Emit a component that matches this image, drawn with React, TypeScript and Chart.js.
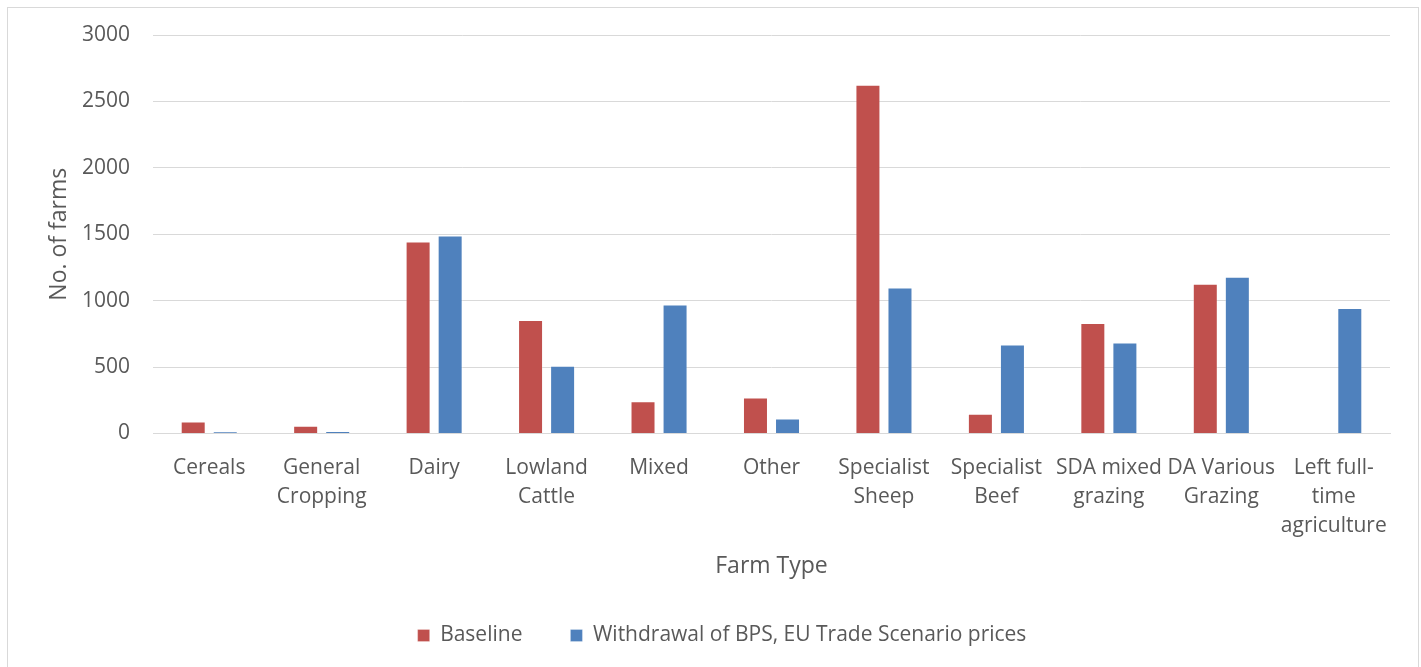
import React, { useEffect, useRef } from "react";
import { Chart, registerables } from "chart.js";

Chart.register(...registerables);

const categories: string[][] = [
  ["Cereals"],
  ["General", "Cropping"],
  ["Dairy"],
  ["Lowland", "Cattle"],
  ["Mixed"],
  ["Other"],
  ["Specialist", "Sheep"],
  ["Specialist", "Beef"],
  ["SDA mixed", "grazing"],
  ["DA Various", "Grazing"],
  ["Left full-", "time", "agriculture"],
];

const baseline: (number | null)[] = [90, 58, 1445, 855, 243, 271, 2625, 148, 832, 1128, null];
const withdrawal: number[] = [15, 17, 1490, 509, 970, 113, 1098, 670, 685, 1180, 945];

const yTicks: number[] = [0, 500, 1000, 1500, 2000, 2500, 3000];

const seriesNames = ["Baseline", "Withdrawal of BPS, EU Trade Scenario prices"];

const FONT = "'Open Sans', 'Noto Sans', sans-serif";
const TEXT = "#595959";

export default function App() {
  const ref = useRef<HTMLCanvasElement | null>(null);

  useEffect(() => {
    if (!ref.current) return;
    const chart = new Chart(ref.current, {
      type: "bar",
      data: {
        labels: categories,
        datasets: [
          {
            label: seriesNames[0],
            data: baseline,
            backgroundColor: "#C0504D",
            borderColor: "rgba(255,255,255,0.25)",
            borderWidth: 1,
            categoryPercentage: 0.57,
            barPercentage: 0.78,
          },
          {
            label: seriesNames[1],
            data: withdrawal,
            backgroundColor: "#4F81BD",
            borderColor: "rgba(255,255,255,0.25)",
            borderWidth: 1,
            categoryPercentage: 0.57,
            barPercentage: 0.78,
          },
        ],
      },
      options: {
        animation: false,
        responsive: false,
        maintainAspectRatio: false,
        layout: { padding: { top: 27, left: 18, right: 0, bottom: 11 } },
        plugins: {
          tooltip: { enabled: false },
          legend: {
            position: "bottom",
            labels: {
              boxWidth: 12,
              boxHeight: 12,
              padding: 48,
              color: TEXT,
              font: { family: FONT, size: 21 },
            },
          },
        },
        scales: {
          x: {
            grid: { display: false, drawTicks: false },
            border: { display: true, color: "#d9d9d9", width: 1 },
            ticks: {
              color: TEXT,
              padding: 20,
              maxRotation: 0,
              autoSkip: false,
              font: { family: FONT, size: 21, lineHeight: 1.38 },
            },
            title: {
              display: true,
              text: "Farm Type",
              color: TEXT,
              font: { family: FONT, size: 23, lineHeight: 1.2 },
              padding: { top: -8, bottom: -3 },
            },
          },
          y: {
            min: 0,
            max: 3000,
            afterBuildTicks: (scale: any) => {
              scale.ticks = yTicks.map((v) => ({ value: v }));
            },
            afterFit: (scale: any) => {
              scale.width = 127;
              scale.paddingTop = 0;
              scale.paddingBottom = 0;
            },
            grid: { color: "#d9d9d9", lineWidth: 1, drawTicks: false },
            border: { display: false },
            ticks: {
              color: TEXT,
              padding: 23,
              font: { family: FONT, size: 21 },
              callback: (v: any) => String(v),
            },
            title: {
              display: true,
              text: "No. of farms",
              color: TEXT,
              font: { family: FONT, size: 23, lineHeight: 1.2 },
              padding: { top: 20, bottom: 0 },
            },
          },
          yRight: {
            position: "right",
            display: true,
            grid: { display: false, drawTicks: false },
            border: { display: false },
            ticks: { display: false },
            afterFit: (scale: any) => {
              scale.width = 28;
              scale.paddingTop = 0;
              scale.paddingBottom = 0;
            },
          },
        },
      },
    });
    return () => chart.destroy();
  }, []);

  return (
    <div
      style={{
        position: "absolute",
        left: 7,
        top: 7,
        width: 1412,
        height: 660,
        boxSizing: "border-box",
        border: "1px solid #d9d9d9",
        borderBottom: "none",
        background: "#fff",
      }}
    >
      <canvas ref={ref} width={1410} height={659} style={{ display: "block" }} />
    </div>
  );
}
